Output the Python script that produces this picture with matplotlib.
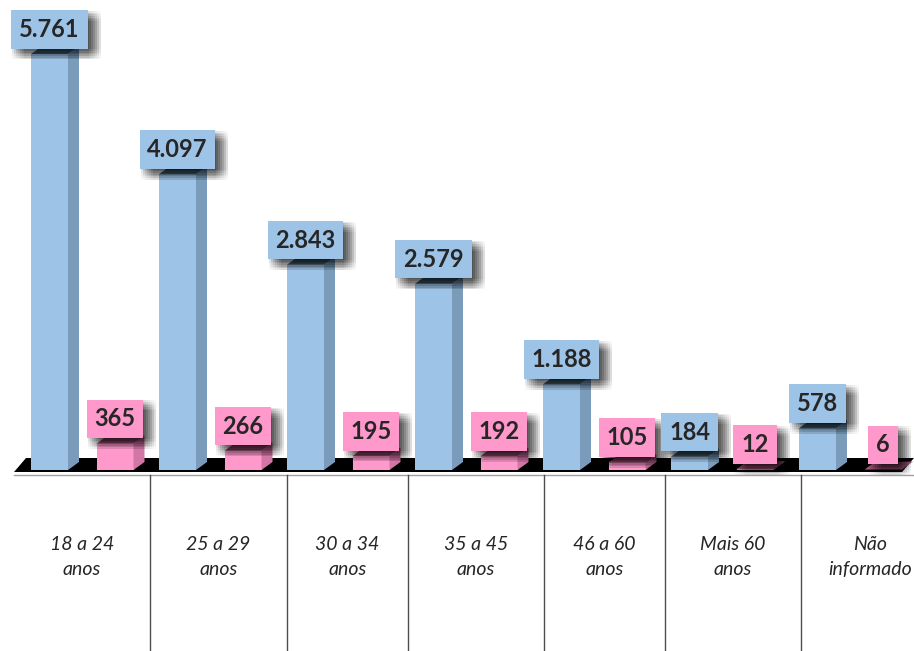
import numpy as np
import matplotlib
matplotlib.use("Agg")
import matplotlib.pyplot as plt
import matplotlib.patheffects as pe
from matplotlib.patches import Polygon
from matplotlib.transforms import Affine2D

# dados (faixa etária)
faixas = ["18 a 24\nanos", "25 a 29\nanos", "30 a 34\nanos", "35 a 45\nanos",
          "46 a 60\nanos", "Mais 60\nanos", "Não\ninformado"]
serie_azul = [5761, 4097, 2843, 2579, 1188, 184, 578]
serie_rosa = [365, 266, 195, 192, 105, 12, 6]

AZUL = ("#9dc3e6", "#7b9bba", "#4f687f")
ROSA = ("#ff99cc", "#d276a6", "#a5577f")

W, H = 914, 651
PX_X = 128.0      # pixels per group
PX_Y = 0.0722     # pixels per unit
X0_PX = 82.25     # pixel x of the first group centre
Y0_PX = 470       # pixel y (from top) of the baseline

plt.rcParams["font.family"] = ["Lato", "DejaVu Sans"]

fig = plt.figure(figsize=(W / 100, H / 100), dpi=100)
ax = fig.add_axes([0, 0, 1, 1])
ax.set_xlim(-X0_PX / PX_X, (W - X0_PX) / PX_X)
ax.set_ylim(-(H - Y0_PX) / PX_Y, Y0_PX / PX_Y)
ax.axis("off")

# pixel transform (origin top-left) for the floor and the table
px = Affine2D().scale(1 / W, -1 / H).translate(0, 1) + fig.transFigure

# soft drop shadow made of many faint offset copies
steps = np.linspace(1, 13, 7)
shadow = [pe.SimplePatchShadow(offset=(a * 0.72, -b * 0.6), shadow_rgbFace="black", alpha=0.018)
          for a in steps for b in steps] + [pe.Normal()]

# floor
floor = Polygon([(14, 472), (902, 472), (914, 458), (26, 458)], closed=True,
                fc="black", ec="none", transform=px, zorder=2)
ax.add_patch(floor)
ax.plot([14, 914], [474.5, 474.5], color="#a0a0a0", lw=1, transform=px, zorder=1)

x = np.arange(len(faixas))
off = 32.75 / PX_X
bw = 37 / PX_X
dx = 11 / PX_X
dy = 8 / PX_Y


def fmt(v):
    return f"{v:,}".replace(",", ".")


def bar3d(xc, v, cols):
    front, side, top = cols
    ax.bar(xc, v, width=bw, color=front, zorder=3)
    l, r = xc - bw / 2, xc + bw / 2
    ax.add_patch(Polygon([(r, 0), (r + dx, dy), (r + dx, v + dy), (r, v)],
                         closed=True, fc=side, ec="none", zorder=3))
    ax.add_patch(Polygon([(l, v), (r, v), (r + dx, v + dy), (l + dx, v + dy)],
                         closed=True, fc=top, ec="none", zorder=3))
    t = ax.annotate(fmt(v), (xc, v), xytext=(0, 9.5), textcoords="offset points",
                    ha="center", va="bottom", fontsize=17, fontweight="bold",
                    color="#262626", zorder=6,
                    bbox=dict(boxstyle="square,pad=0.33", fc=front, ec="none"))
    t.get_bbox_patch().set_path_effects(shadow)


for i in range(len(faixas)):
    bar3d(x[i] - off, serie_azul[i], AZUL)
    bar3d(x[i] + off, serie_rosa[i], ROSA)

# table below the floor
divs = [150, 287, 408, 544, 665, 801]
for d in divs:
    ax.plot([d, d], [475, H], color="#4d4d4d", lw=1, transform=px, zorder=1)
edges = [14] + divs + [940]
for i, lab in enumerate(faixas):
    cx = (edges[i] + edges[i + 1]) / 2
    ax.text(cx, 557, lab, transform=px, ha="center", va="center", fontsize=14,
            fontstyle="italic", color="#262626", linespacing=1.6)

fig.savefig("out.png", dpi=100)
